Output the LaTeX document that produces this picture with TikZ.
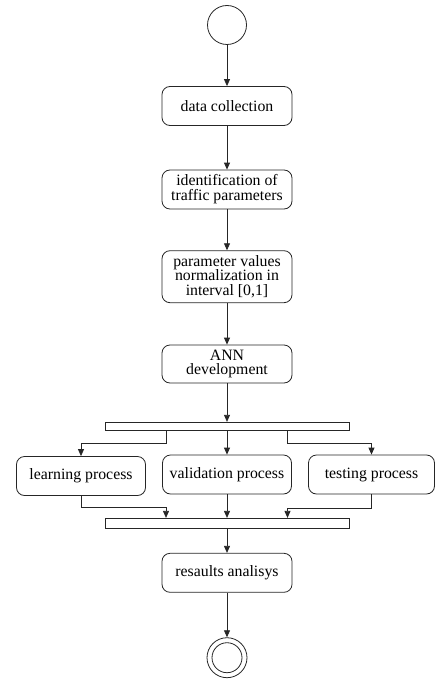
\documentclass[tikz,border=0pt]{standalone}
\usepackage{fontspec}
\setmainfont{Liberation Serif}
\usetikzlibrary{arrows.meta,positioning}
\begin{document}
\begin{tikzpicture}[x=1pt,y=-1pt,
  line width=0.8pt,
  ln/.style={draw=black!85},
  act/.style={draw=black!85, rectangle, rounded corners=8pt, minimum width=130pt, minimum height=39pt, align=center, inner sep=2pt, font=\fontsize{15.8}{14.8}\selectfont},
  bar/.style={draw=black!85, rectangle, fill=white, minimum width=244pt, inner sep=0pt},
  arr/.style={draw=black!85, -{Triangle[length=7pt,width=6pt]}}]
\useasboundingbox (0,0) rectangle (435,682);
\node[draw=black!85, circle, minimum size=39pt, inner sep=0pt] (start) at (227,25) {};
\node[act] (dc) at (227,106) {data collection};
\node[act] (id) at (227,189.5) {identification of\\traffic parameters};
\node[act, minimum height=52pt] (norm) at (227,276.7) {parameter values\\normalization in\\interval [0,1]};
\node[act, minimum height=38pt] (ann) at (227,364) {ANN\\development};
\node[bar, minimum height=8.5pt] (fork) at (227,426.5) {};
\node[act, minimum width=129pt] (learn) at (81,476) {learning process};
\node[act, minimum width=129pt] (valid) at (227,474.5) {validation process};
\node[act, minimum width=126pt] (test) at (371.5,474.5) {testing process};
\node[bar, minimum height=10pt] (join) at (227,523.3) {};
\node[act] (res) at (227,572.8) {resaults analisys};
\node[draw=black!85, circle, minimum size=40pt, inner sep=0pt] (end) at (227,657.7) {};
\draw[ln] (end.center) circle[radius=15];

\draw[arr] (start) -- (dc);
\draw[arr] (dc) -- (id);
\draw[arr] (id) -- (norm);
\draw[arr] (norm) -- (ann);
\draw[arr] (ann) -- (fork);
\draw[arr] ([xshift=-61pt]fork.south) -- ++(0,12) -| (learn.north);
\draw[arr] (fork) -- (valid);
\draw[arr] ([xshift=60.5pt]fork.south) -- ++(0,12) -| (test.north);
\draw[arr] (learn.south) -- ++(0,11.6) -| ([xshift=-61pt]join.north);
\draw[arr] (valid) -- (join);
\draw[arr] (test.south) -- ++(0,13.6) -| ([xshift=60.5pt]join.north);
\draw[arr] (join) -- (res);
\draw[arr] (res) -- (end);
\end{tikzpicture}
\end{document}
